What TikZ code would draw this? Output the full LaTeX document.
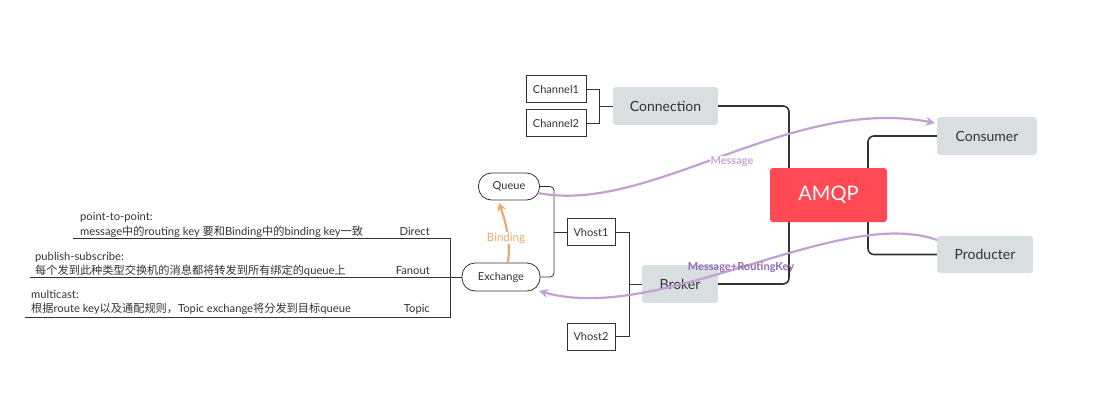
\documentclass[tikz,border=0pt]{standalone}
\usepackage{fontspec}
\setmainfont{Lato}
\newfontfamily\cjkf{Noto Sans CJK SC}
\usetikzlibrary{arrows.meta}
\definecolor{boxgray}{HTML}{D9DEE0}
\definecolor{txt}{HTML}{333333}
\definecolor{amqpred}{HTML}{FF4A55}
\definecolor{lilac}{HTML}{C4A0D2}
\definecolor{lilactext}{HTML}{C8A6D6}
\definecolor{purpletext}{HTML}{8E6BB0}
\definecolor{bindorange}{HTML}{F2A86C}
\begin{document}
\begin{tikzpicture}[x=1pt,y=-1pt,
  graybox/.style={fill=boxgray,rounded corners=3pt,minimum height=38pt,inner sep=0pt,text=txt,font=\fontsize{14}{16}\selectfont},
  smallbox/.style={draw=txt,line width=0.8pt,minimum height=27pt,inner sep=0pt,text=txt,font=\fontsize{11}{13}\selectfont},
  pill/.style={draw=txt,line width=0.8pt,rounded corners=13pt,minimum height=27pt,inner sep=0pt,text=txt,font=\fontsize{11}{13}\selectfont},
  mainline/.style={draw=txt,line width=1.6pt,rounded corners=6pt},
  thinline/.style={draw=txt,line width=0.8pt,rounded corners=4pt},
  lbl/.style={text=txt,font=\fontsize{11.2}{13}\selectfont,inner sep=0pt},
  flow/.style={draw=lilac,line width=2.2pt,-{Stealth[length=9pt,width=9pt]}}
]
\useasboundingbox (0,0) rectangle (1112,410);

% nodes
\node[graybox,minimum width=105pt] (conn) at (665.5,106) {Connection};
\node[graybox,minimum width=76pt] (broker) at (680,284) {Broker};
\node[graybox,minimum width=100pt] (cons) at (987,136) {Consumer};
\node[graybox,minimum width=96pt,minimum height=37pt] (prod) at (985,254.5) {Producter};

\node[smallbox,minimum width=60pt] (ch1) at (556,89) {Channel1};
\node[smallbox,minimum width=60pt] (ch2) at (556,123) {Channel2};
\node[smallbox,minimum width=48pt] (vh1) at (591,232) {Vhost1};
\node[smallbox,minimum width=48pt] (vh2) at (591,336.5) {Vhost2};
\node[pill,minimum width=61pt] (queue) at (509,186.5) {Queue};
\node[pill,minimum width=78pt,minimum height=28pt] (exch) at (501,277) {Exchange};

% main branches (behind AMQP)
\draw[mainline] (conn.east) -- (789,106) -- (789,284) -- (broker.east);
\draw[mainline] (cons.west) -- (868,136) -- (868,254.5) -- (prod.west);
\node[fill=amqpred,rounded corners=3pt,minimum width=117pt,minimum height=54pt,inner sep=0pt,text=white,font=\fontsize{20}{24}\selectfont] (amqp) at (828.5,195) {AMQP};

% small branches
\coordinate (cj) at (599,106);
\draw[thinline,rounded corners=0pt] (ch1.east) -- (599,89) -- (599,123) -- (ch2.east);
\draw[thinline] (cj) -- (conn.west);

\coordinate (bj) at (629,284);
\draw[thinline,rounded corners=0pt] (vh1.east) -- (629,232) -- (629,336.5) -- (vh2.east);
\draw[thinline] (bj) -- (broker.west);

\coordinate (vj) at (554,232);
\draw[thinline] (queue.east) -- (554,186.5) -- (554,277) -- (exch.east);
\draw[thinline] (vj) -- (vh1.west);

% exchange types
\coordinate (ej) at (450,277);
\coordinate (dL) at (73,238);
\coordinate (fL) at (30,277);
\coordinate (tL) at (25,317);
\draw[thinline,rounded corners=0pt] (dL) -- (450,238) -- (450,317) -- (tL);
\draw[thinline] (fL) -- (exch.west);

\node[lbl,anchor=base west] (d1) at (80,220) {point-to-point:};
\node[lbl,anchor=base west] (d2) at (80,235) {message{\cjkf 中的}routing key {\cjkf 要和}Binding{\cjkf 中的}binding key{\cjkf 一致}};
\node[lbl,anchor=base east] (d3) at (430,235) {Direct};
\node[lbl,anchor=base west] (f1) at (35,260) {publish-subscribe:};
\node[lbl,anchor=base west] (f2) at (35,274) {{\cjkf 每个发到此种类型交换机的消息都将转发到所有绑定的}queue{\cjkf 上}};
\node[lbl,anchor=base east] (f3) at (430,274) {Fanout};
\node[lbl,anchor=base west] (t1) at (31,298) {multicast:};
\node[lbl,anchor=base west] (t2) at (31,312) {{\cjkf 根据}route key{\cjkf 以及通配规则，}Topic exchange{\cjkf 将分发到目标}queue};
\node[lbl,anchor=base east] (t3) at (430,312) {Topic};

% binding arrow
\draw[draw=bindorange,line width=2.2pt,-{Stealth[length=8pt,width=9pt]}] (508,262) .. controls (511,240) and (505,220) .. (499,203);
\node[fill=white,inner sep=1pt,text=bindorange,font=\fontsize{11.5}{13}\selectfont] (bind) at (506,238) {Binding};

% message flows
\draw[flow] (538,193) .. controls (650,215) and (790,95) .. (935,123);
\node[fill=white,inner sep=1pt,text=lilactext,font=\bfseries\fontsize{11}{13}\selectfont] (msg) at (732,162) {Message};
\draw[flow] (937,240) .. controls (840,205) and (660,325) .. (539,291);
\node[inner sep=0pt,text=purpletext,font=\bfseries\fontsize{11}{13}\selectfont] (mrk) at (741,267) {Message+RoutingKey};
\end{tikzpicture}
\end{document}
